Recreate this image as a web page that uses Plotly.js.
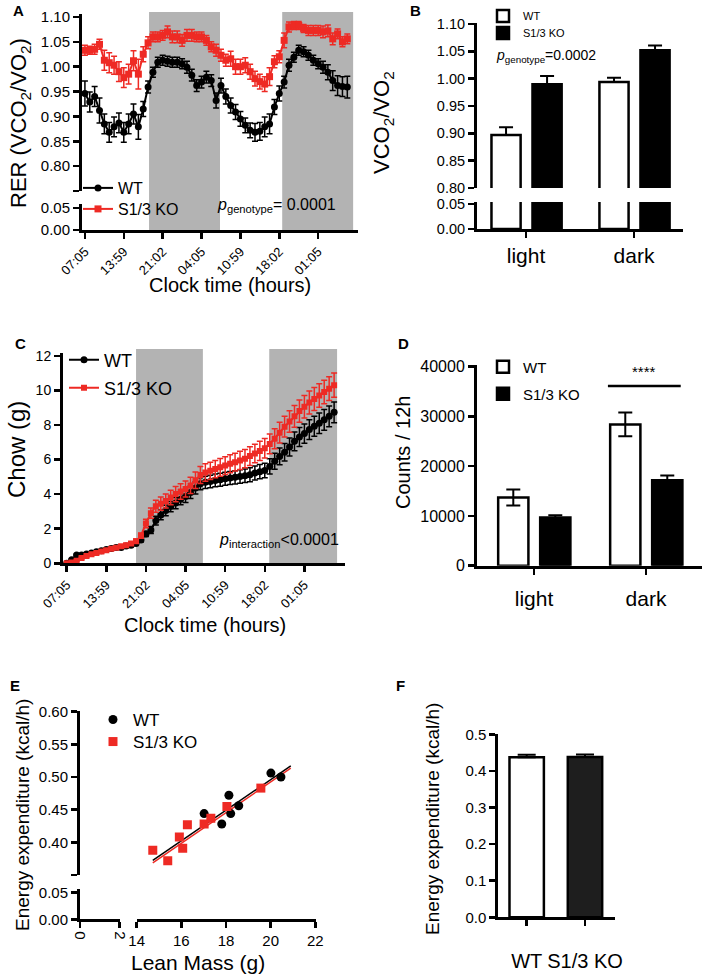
<!DOCTYPE html>
<html><head><meta charset="utf-8">
<script src="https://cdn.plot.ly/plotly-3.0.1.min.js"></script>
<style>html,body{margin:0;padding:0;background:#fff}#chart{width:709px;height:977px}</style>
</head><body><div id="chart"></div>
<script>
// ---------- DATA ----------
const clockLabels = ['07:05','13:59','21:02','04:05','10:59','18:02','01:05'];
const clockTickIdx = [0,8,16,24,32,40,48];

// Panel A: RER
const rerWT = [0.946,0.929,0.940,0.912,0.885,0.868,0.879,0.887,0.868,0.885,
  0.905,0.879,0.915,0.959,0.989,1.009,1.013,1.011,1.009,1.009,
  1.006,0.999,0.983,0.962,0.969,0.979,0.972,0.932,0.962,0.940,
  0.922,0.909,0.895,0.882,0.872,0.868,0.870,0.879,0.885,0.919,
  0.946,0.969,1.003,1.019,1.033,1.030,1.023,1.013,1.006,0.999,
  0.989,0.972,0.962,0.960,0.959];
const rerWTerr = [0.025,0.02,0.02,0.025,0.02,0.02,0.02,0.02,0.02,0.02,
  0.02,0.025,0.015,0.012,0.01,0.01,0.01,0.01,0.01,0.01,
  0.01,0.012,0.012,0.012,0.012,0.012,0.012,0.015,0.015,0.015,
  0.015,0.015,0.015,0.015,0.015,0.018,0.018,0.02,0.02,0.015,
  0.015,0.012,0.012,0.01,0.01,0.01,0.01,0.01,0.01,0.012,
  0.015,0.02,0.02,0.02,0.022];
const rerKO = [1.033,1.033,1.035,1.045,1.013,1.008,1.003,0.990,0.978,0.985,
  1.012,0.985,1.025,1.048,1.060,1.060,1.063,1.070,1.060,1.060,
  1.053,1.063,1.063,1.060,1.060,1.053,1.040,1.033,1.023,1.013,
  1.016,1.000,1.000,1.003,0.990,0.976,0.970,0.965,0.980,1.010,
  1.020,1.053,1.080,1.083,1.083,1.077,1.073,1.073,1.073,1.070,
  1.072,1.056,1.066,1.050,1.056];
const rerKOerr = [0.01,0.008,0.01,0.01,0.02,0.02,0.018,0.02,0.02,0.02,
  0.02,0.03,0.015,0.012,0.01,0.01,0.01,0.012,0.012,0.012,
  0.012,0.012,0.012,0.01,0.01,0.01,0.01,0.012,0.012,0.012,
  0.015,0.015,0.015,0.015,0.015,0.015,0.015,0.015,0.018,0.012,
  0.012,0.015,0.01,0.008,0.008,0.008,0.01,0.01,0.01,0.012,
  0.012,0.012,0.01,0.01,0.01];
const darkA = [[13.2,27.8],[40.6,55.2]];

// Panel B: RER light/dark
const phases = ['light','dark'];
const rerPhaseWT = [0.897,0.994];
const rerPhaseWTerr = [0.014,0.008];
const rerPhaseKO = [0.990,1.052];
const rerPhaseKOerr = [0.015,0.009];

// Panel C: cumulative chow
const chowWT = [0,0.2,0.48,0.48,0.54,0.6,0.67,0.73,0.8,0.85,
  0.92,0.92,1.0,1.04,1.15,1.35,1.7,1.93,2.47,2.8,
  3.05,3.28,3.48,3.71,3.86,4.1,4.35,4.6,4.68,4.73,
  4.79,4.83,4.89,4.93,4.97,5.02,5.06,5.12,5.22,5.3,
  5.37,5.6,5.9,6.18,6.42,6.72,7.05,7.3,7.5,7.73,
  7.92,8.1,8.3,8.5,8.73];
const chowWTerr = [0.02,0.03,0.04,0.04,0.05,0.05,0.05,0.05,0.05,0.05,
  0.06,0.06,0.06,0.07,0.08,0.1,0.15,0.2,0.25,0.28,
  0.3,0.3,0.32,0.33,0.35,0.35,0.35,0.35,0.36,0.36,
  0.37,0.37,0.38,0.38,0.38,0.39,0.39,0.4,0.4,0.41,
  0.42,0.44,0.46,0.48,0.5,0.52,0.54,0.55,0.56,0.57,
  0.58,0.59,0.6,0.6,0.6];
const chowKO = [0.0,0.05,0.15,0.3,0.42,0.52,0.6,0.68,0.76,0.84,
  0.9,0.98,1.05,1.15,1.28,1.6,2.3,2.9,3.3,3.45,
  3.6,3.8,4.0,4.15,4.3,4.5,4.8,5.1,5.25,5.35,
  5.45,5.55,5.65,5.75,5.85,5.95,6.05,6.2,6.35,6.5,
  6.65,6.9,7.2,7.55,7.9,8.2,8.5,8.8,9.05,9.3,
  9.5,9.7,9.9,10.1,10.3];
const chowKOerr = [0.02,0.03,0.04,0.05,0.05,0.06,0.06,0.07,0.07,0.08,
  0.08,0.09,0.1,0.1,0.12,0.15,0.25,0.3,0.35,0.38,
  0.4,0.42,0.44,0.45,0.46,0.47,0.48,0.49,0.5,0.5,
  0.5,0.51,0.51,0.52,0.52,0.53,0.53,0.54,0.54,0.55,
  0.56,0.57,0.58,0.6,0.6,0.62,0.63,0.64,0.65,0.66,
  0.67,0.68,0.68,0.69,0.7];
const darkC = [[14.0,27.5],[40.9,54.6]];

// Panel D: activity counts
const countsWT = [13700,28400];
const countsWTerr = [1600,2400];
const countsKO = [9700,17200];
const countsKOerr = [450,940];
const sigLine = [0.66,1.31,36100];

// Panel E: energy expenditure vs lean mass
const leanWT = [17.02,17.81,18.13,18.21,18.57,20.01,20.46];
const eeWT = [0.444,0.428,0.472,0.444,0.456,0.506,0.500];
const leanKO = [14.72,15.39,15.91,16.06,16.27,17.02,17.32,18.04,19.56];
const eeKO = [0.388,0.372,0.408,0.391,0.427,0.428,0.437,0.455,0.483];
const fitX = [14.72,20.9];
const fitWT = [0.3725,0.517];
const fitKO = [0.3685,0.5135];

// Panel F
const genotypes = ['WT','S1/3 KO'];
const eeMean = [0.4375,0.438];
const eeErr = [0.007,0.007];

// ---------- LAYOUT HELPERS ----------
const W=709, H=977;
const xd=(a,b)=>[a/W,b/W];
const yd=(top,bot)=>[1-bot/H,1-top/H];
const FONT='Liberation Sans, Arial, Helvetica, sans-serif';
const RED='#ee2a24', GRAY='#b3b3b3';
const idx = rerWT.map((_,i)=>i);

function ax(fs,extra){
  return Object.assign({showline:true,linecolor:'#000',linewidth:3,ticks:'outside',ticklen:6,tickwidth:2.5,
    tickcolor:'#000',showgrid:false,zeroline:false,fixedrange:true,
    tickfont:{family:FONT,size:fs,color:'#000'}},extra);
}
const fmt2 = v=>v.toFixed(2);
const traces = [];
function lg(name,x,y,fs){
  return {x:x/W,y:1-y/H,xanchor:'left',yanchor:'middle',bgcolor:'rgba(0,0,0,0)',borderwidth:0,
    font:{family:FONT,size:fs,color:'#000'},itemwidth:30};
}

// A (upper segment carries data; lower segment same series, out of its range)
const wtLine = {color:'#000',width:2}, koLine = {color:RED,width:2};
traces.push({x:idx,y:rerWT,xaxis:'x',yaxis:'y',type:'scatter',mode:'lines+markers',name:'WT',legend:'legend',
  line:wtLine,marker:{symbol:'circle',size:7,color:'#000'},
  error_y:{type:'data',array:rerWTerr,color:'#000',thickness:1.5,width:3}});
traces.push({x:idx,y:rerKO,xaxis:'x',yaxis:'y',type:'scatter',mode:'lines+markers',name:'S1/3 KO',legend:'legend2',
  line:koLine,marker:{symbol:'square',size:7,color:RED},
  error_y:{type:'data',array:rerKOerr,color:RED,thickness:1.5,width:3}});
traces.push({x:idx,y:rerWT,xaxis:'x',yaxis:'y2',type:'scatter',mode:'lines',showlegend:false,line:wtLine});
traces.push({x:idx,y:rerKO,xaxis:'x',yaxis:'y2',type:'scatter',mode:'lines',showlegend:false,line:koLine});
// B
const barWT = {color:'#fff',line:{color:'#000',width:2.5}};
const barKO = {color:'#000',line:{color:'#000',width:2.5}};
traces.push({x:phases,y:rerPhaseWT,xaxis:'x2',yaxis:'y3',type:'bar',name:'WT',legend:'legend3',width:0.27,offset:-0.32,
  marker:barWT,error_y:{type:'data',symmetric:false,array:rerPhaseWTerr,arrayminus:[0,0],color:'#000',thickness:2,width:7}});
traces.push({x:phases,y:rerPhaseKO,xaxis:'x2',yaxis:'y3',type:'bar',name:'S1/3 KO',legend:'legend4',width:0.27,offset:0.06,
  marker:barKO,error_y:{type:'data',symmetric:false,array:rerPhaseKOerr,arrayminus:[0,0],color:'#000',thickness:2,width:7}});
traces.push({x:phases,y:rerPhaseWT,xaxis:'x2',yaxis:'y4',type:'bar',showlegend:false,width:0.27,offset:-0.32,marker:barWT});
traces.push({x:phases,y:rerPhaseKO,xaxis:'x2',yaxis:'y4',type:'bar',showlegend:false,width:0.27,offset:0.06,marker:barKO});
// C
traces.push({x:idx,y:chowWT,xaxis:'x3',yaxis:'y5',type:'scatter',mode:'lines+markers',name:'WT',legend:'legend5',
  line:wtLine,marker:{symbol:'circle',size:7,color:'#000'},
  error_y:{type:'data',array:chowWTerr,color:'#000',thickness:1.5,width:3}});
traces.push({x:idx,y:chowKO,xaxis:'x3',yaxis:'y5',type:'scatter',mode:'lines+markers',name:'S1/3 KO',legend:'legend6',
  line:koLine,marker:{symbol:'square',size:6,color:RED},
  error_y:{type:'data',array:chowKOerr,color:RED,thickness:1.5,width:3}});
// D
traces.push({x:phases,y:countsWT,xaxis:'x4',yaxis:'y6',type:'bar',name:'WT',legend:'legend7',width:0.27,offset:-0.32,
  marker:barWT,error_y:{type:'data',array:countsWTerr,color:'#000',thickness:2,width:7}});
traces.push({x:phases,y:countsKO,xaxis:'x4',yaxis:'y6',type:'bar',name:'S1/3 KO',legend:'legend8',width:0.27,offset:0.055,
  marker:barKO,error_y:{type:'data',array:countsKOerr,color:'#000',thickness:2,width:7}});
// E (points live on the 14-22 / 0.35-0.60 segment; the other segments get the same points, outside their ranges)
traces.push({x:fitX,y:fitWT,xaxis:'x6',yaxis:'y7',type:'scatter',mode:'lines',showlegend:false,line:{color:'#000',width:1.5}});
traces.push({x:fitX,y:fitKO,xaxis:'x6',yaxis:'y7',type:'scatter',mode:'lines',showlegend:false,line:{color:RED,width:1.5}});
traces.push({x:leanWT,y:eeWT,xaxis:'x6',yaxis:'y7',type:'scatter',mode:'markers',name:'WT',legend:'legend9',
  marker:{symbol:'circle',size:9,color:'#000'}});
traces.push({x:leanKO,y:eeKO,xaxis:'x6',yaxis:'y7',type:'scatter',mode:'markers',name:'S1/3 KO',legend:'legend10',
  marker:{symbol:'square',size:9,color:RED}});
[['x5','y7'],['x5','y8'],['x6','y8']].forEach(p=>{
  traces.push({x:leanWT,y:eeWT,xaxis:p[0],yaxis:p[1],type:'scatter',mode:'markers',showlegend:false,marker:{size:9,color:'#000'}});
});
// F
traces.push({x:genotypes,y:eeMean,xaxis:'x7',yaxis:'y9',type:'bar',showlegend:false,width:0.59,
  marker:{color:['#fff','#1e1e1e'],line:{color:'#000',width:2.5}},
  error_y:{type:'data',symmetric:false,array:eeErr,arrayminus:[0,0],color:'#000',thickness:2,width:9}});

const rerTicks=[0.75,0.80,0.85,0.90,0.95,1.00,1.05,1.10];
const rerText=rerTicks.map((v,i)=>i===0?'':fmt2(v));
const eeTicks=[0.35,0.40,0.45,0.50,0.55,0.60];
const eeText=eeTicks.map((v,i)=>i===0?'':fmt2(v));

const layout = {
  width:W,height:H,margin:{l:0,r:0,t:0,b:0},paper_bgcolor:'#fff',plot_bgcolor:'rgba(0,0,0,0)',
  font:{family:FONT,color:'#000'},barmode:'overlay',showlegend:true,
  // A
  xaxis:ax(13,{domain:xd(82,358),range:[-0.6,56.2],anchor:'y2',tickvals:clockTickIdx,ticktext:clockLabels,tickangle:-45}),
  yaxis:ax(15,{domain:yd(14,191),range:[0.75,1.106],anchor:'x',tickvals:rerTicks,ticktext:rerText}),
  yaxis2:ax(15,{domain:yd(204,230),range:[0,0.059],anchor:'x',tickvals:[0,0.05],ticktext:['0.00','0.05']}),
  // B
  xaxis2:ax(21,{domain:xd(477,683),type:'category',categoryorder:'array',categoryarray:phases,range:[-0.454,1.454],anchor:'y4',
    ticklabelstandoff:0}),
  yaxis3:ax(14.5,{domain:yd(23,188),range:[0.8,1.102],anchor:'x2',tickvals:[0.8,0.85,0.9,0.95,1.0,1.05,1.1],
    ticktext:['0.80','0.85','0.90','0.95','1.00','1.05','1.10']}),
  yaxis4:ax(14.5,{domain:yd(202,229),range:[0,0.054],anchor:'x2',tickvals:[0,0.05],ticktext:['0.00','0.05']}),
  // C
  xaxis3:ax(13,{domain:xd(63,345),range:[-0.75,56.2],anchor:'y5',tickvals:clockTickIdx,ticktext:clockLabels,tickangle:-45}),
  yaxis5:ax(14,{domain:yd(353,563.3),range:[0,12.16],anchor:'x3',tickvals:[0,2,4,6,8,10,12]}),
  // D
  xaxis4:ax(21,{domain:xd(477,702),type:'category',categoryorder:'array',categoryarray:phases,range:[-0.509,1.5],anchor:'y6',
    ticklabelstandoff:6}),
  yaxis6:ax(16,{domain:yd(365,565.7),range:[0,40340],anchor:'x4',tickvals:[0,10000,20000,30000,40000],
    ticktext:['0','10000','20000','30000','40000']}),
  // E
  xaxis5:ax(15,{domain:xd(80,120),range:[0,2.03],anchor:'y8',tickvals:[0,2],ticktext:['0','2'],tickangle:90}),
  xaxis6:ax(15,{domain:xd(136.7,316),range:[14,22.03],anchor:'y8',tickvals:[14,16,18,20,22]}),
  yaxis7:ax(15,{domain:yd(711,875),range:[0.35,0.601],anchor:'x5',tickvals:eeTicks,ticktext:eeText}),
  yaxis8:ax(15,{domain:yd(889,919.3),range:[0,0.057],anchor:'x5',tickvals:[0,0.05],ticktext:['0.00','0.05']}),
  // F
  xaxis7:ax(20,{domain:xd(498.3,615),type:'category',categoryorder:'array',categoryarray:genotypes,range:[-0.487,1.515],anchor:'y9',
    ticklabelstandoff:18}),
  yaxis9:ax(15,{domain:yd(734,917.3),range:[0,0.501],anchor:'x7',tickvals:[0,0.1,0.2,0.3,0.4,0.5],
    ticktext:['0.0','0.1','0.2','0.3','0.4','0.5']}),
  legend:lg('A-WT',78,188,16), legend2:lg('A-KO',78,209,16),
  legend3:lg('B-WT',483,16,11), legend4:lg('B-KO',483,33,11),
  legend5:lg('C-WT',64,360,18), legend6:lg('C-KO',64,388,18),
  legend7:lg('D-WT',483,367,15), legend8:lg('D-KO',483,394,15),
  legend9:lg('E-WT',93,720,17), legend10:lg('E-KO',93,742,17),
  shapes:[
    ...darkA.map(d=>({type:'rect',xref:'x',yref:'paper',x0:d[0],x1:d[1],y0:1-230/H,y1:1-12/H,fillcolor:GRAY,line:{width:0},layer:'below'})),
    ...darkC.map(d=>({type:'rect',xref:'x3',yref:'paper',x0:d[0],x1:d[1],y0:1-563.3/H,y1:1-349/H,fillcolor:GRAY,line:{width:0},layer:'below'})),
    {type:'line',xref:'x4',yref:'y6',x0:sigLine[0],x1:sigLine[1],y0:sigLine[2],y1:sigLine[2],line:{color:'#000',width:2.5}}
  ],
  annotations:[]
};

function ann(text,x,y,size,opts){
  layout.annotations.push(Object.assign({text:text,xref:'paper',yref:'paper',x:x/W,y:1-y/H,xanchor:'center',yanchor:'middle',
    showarrow:false,font:{family:FONT,size:size,color:'#000'}},opts||{}));
}
// panel letters
ann('<b>A</b>',18,10,15); ann('<b>B</b>',415,10,15); ann('<b>C</b>',20,343,15);
ann('<b>D</b>',403,343,15); ann('<b>E</b>',15,685,15); ann('<b>F</b>',400,685,15);
// titles
ann('RER (VCO<sub>2</sub>/VO<sub>2</sub>)',20,123,22,{textangle:-90});
ann('Clock time (hours)',230,285,20);
ann('<i>p</i><sub>genotype</sub>= 0.0001',276,205,16);
ann('VCO<sub>2</sub>/VO<sub>2</sub>',383,123,22,{textangle:-90});
ann('<i>p</i><sub>genotype</sub>=0.0002',546,56,14);
ann('Chow (g)',17,450,24,{textangle:-90});
ann('Clock time (hours)',205,625,20);
ann('<i>p</i><sub>interaction</sub>&lt;0.0001',279,540,16);
ann('Counts / 12h',403,453,20,{textangle:-90});
ann('****',644,372,15);
ann('Energy expenditure (kcal/h)',22,815,19,{textangle:-90});
ann('Lean Mass (g)',198,962,21);
ann('Energy expenditure (kcal/h)',432,819,19,{textangle:-90});

Plotly.newPlot('chart',traces,layout,{displayModeBar:false,staticPlot:true});
</script></body></html>
